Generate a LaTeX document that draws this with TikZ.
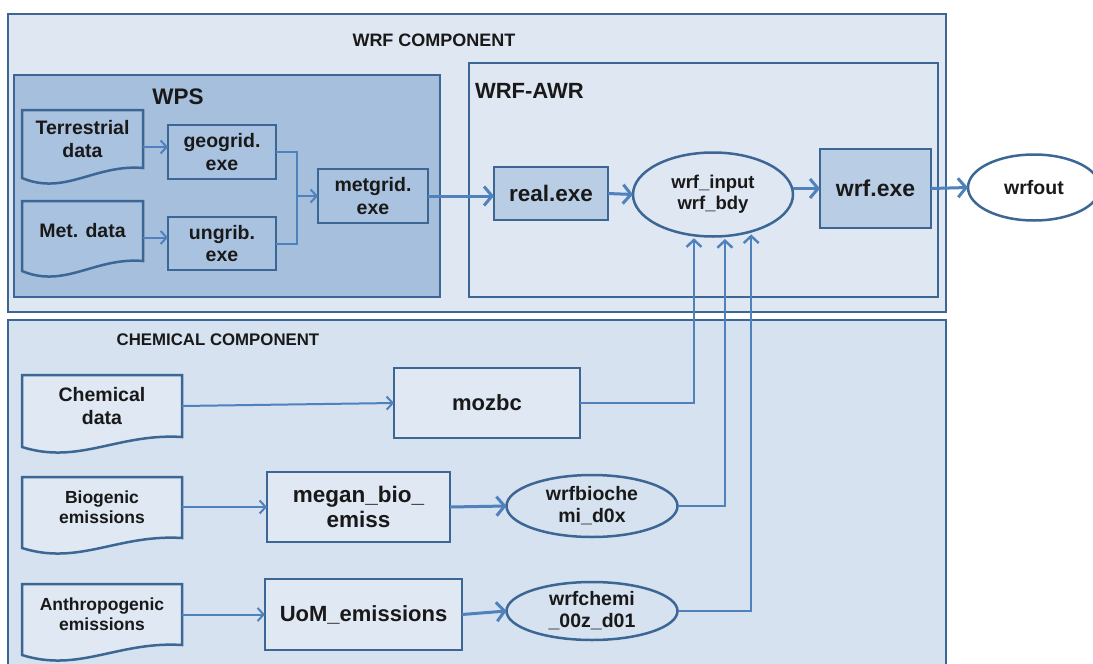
\documentclass[tikz,border=0pt]{standalone}
\usepackage{fontspec}
\setmainfont{Liberation Sans}
\usetikzlibrary{arrows.meta,calc,shapes.geometric}
\pgfdeclarelayer{bglayer}
\pgfdeclarelayer{midlayer}
\pgfsetlayers{bglayer,midlayer,main}
\definecolor{bord}{HTML}{3C6795}
\definecolor{conn}{HTML}{4F81BD}
\definecolor{outerfill}{HTML}{DEE7F2}
\definecolor{chemfill}{HTML}{D6E2F0}
\definecolor{wpsfill}{HTML}{A6BFDD}
\definecolor{procfill}{HTML}{A9C2DF}
\definecolor{exefill}{HTML}{B9CDE5}
\definecolor{lightfill}{HTML}{DFE8F3}
\newcommand\docshape[2]{%
  \draw[docline,fill=#2] (#1.north west) -- (#1.north east) -- (#1.south east)
    .. controls ($(#1.south east)!0.4!(#1.south west)+(0,-4)$) and ($(#1.south west)!0.355!(#1.south east)+(0,28)$)
    .. ($(#1.south west)+(0,10)$) -- cycle;}
\begin{document}
\begin{tikzpicture}[x=1pt,y=-1pt,
  every node/.style={inner sep=0pt, outer sep=0pt, align=center, text=black!90},
  fs/.style 2 args={font=\bfseries\fontsize{#1}{#2}\selectfont},
  bigbox/.style={rectangle, draw=bord, line width=2.6pt},
  proc/.style={rectangle, draw=bord, line width=2.5pt},
  ell/.style={ellipse, draw=bord, line width=2.5pt},
  docnode/.style={rectangle, draw=none},
  docline/.style={draw=bord, line width=2.5pt},
  cline/.style={draw=conn, line width=2pt},
  tarrow/.style={draw=conn, line width=2pt, -{Straight Barb[length=6pt,width=13pt]}},
  barrow/.style={draw=conn, line width=3pt, -{Straight Barb[length=8pt,width=19pt]}},
  varrow/.style={draw=conn, line width=2.4pt, -{Straight Barb[length=7pt,width=15pt]}, shorten >=3pt},
]
\useasboundingbox (0,0) rectangle (1093,664);
\begin{pgfonlayer}{bglayer}
  \fill[white] (0,0) rectangle (1093,664);
  \node[bigbox, fill=outerfill, minimum width=938pt, minimum height=298pt] (wrfc) at (477,163) {};
  \node[bigbox, fill=chemfill, minimum width=938pt, minimum height=380pt] (chem) at (477,510) {};
  \node[bigbox, fill=wpsfill, minimum width=426pt, minimum height=222pt] (wps) at (227,186) {};
  \node[bigbox, fill=outerfill, minimum width=469pt, minimum height=234pt] (awr) at (703.5,180) {};
\end{pgfonlayer}

% labels
\node[fs={18}{21}] (wrfclbl) at (434,40) {WRF COMPONENT};
\node[fs={22.5}{26}] (wpslbl) at (178,97) {WPS};
\node[fs={22}{26}, anchor=west] (awrlbl) at (475,91) {WRF-AWR};
\node[fs={16.8}{20}] (chemlbl) at (218,340) {CHEMICAL COMPONENT};

% WPS
\node[docnode, minimum width=121pt, minimum height=58pt, fs={19.5}{22.5}] (terr) at (82.5,139) {Terrestrial\\data};
\node[docnode, minimum width=121pt, minimum height=60pt, fs={19.5}{22}] (metd) at (82.5,231) {Met. data};
\node[proc, fill=procfill, minimum width=108pt, minimum height=54pt, fs={19.5}{22.5}] (geogrid) at (222,152) {geogrid.\\exe};
\node[proc, fill=procfill, minimum width=108pt, minimum height=53pt, fs={19.5}{22.5}] (ungrib) at (222,243.5) {ungrib.\\exe};
\node[proc, fill=procfill, minimum width=110pt, minimum height=54pt, fs={19.5}{22.5}] (metgrid) at (373,196) {metgrid.\\exe};

% WRF-AWR
\node[proc, fill=exefill, minimum width=114pt, minimum height=53pt, fs={22.5}{26}] (real) at (551,193.5) {real.exe};
\node[ell, fill=outerfill, minimum width=160pt, minimum height=84pt, fs={18.5}{21}] (wrfin) at (713,194.5) {wrf\_input\\wrf\_bdy};
\node[proc, fill=exefill, minimum width=111pt, minimum height=79pt, fs={23}{27}] (wrf) at (875.5,188.5) {wrf.exe};
\node[ell, fill=white, minimum width=132pt, minimum height=66pt, fs={19.5}{22}] (wrfout) at (1034,187.5) {wrfout};

% Chemical
\node[docnode, minimum width=160pt, minimum height=62pt, fs={19.5}{22.5}] (chemd) at (102,406) {Chemical\\data};
\node[docnode, minimum width=160pt, minimum height=61pt, fs={17.5}{20}] (bio) at (102,507.5) {Biogenic\\emissions};
\node[docnode, minimum width=160pt, minimum height=61pt, fs={17.5}{20}] (anth) at (102,614.5) {Anthropogenic\\emissions};
\node[proc, fill=lightfill, minimum width=186pt, minimum height=70pt, fs={22}{25}] (mozbc) at (487,403) {mozbc};
\node[proc, fill=lightfill, minimum width=183pt, minimum height=70pt, fs={22.5}{25}] (megan) at (358.5,507) {megan\_bio\_\\emiss};
\node[proc, fill=lightfill, minimum width=197pt, minimum height=71pt, fs={22}{26}] (uom) at (363.5,614.5) {UoM\_emissions};
\node[ell, fill=chemfill, minimum width=171pt, minimum height=62pt, fs={19.5}{22}] (wrfbio) at (592,506) {wrfbioche\\mi\_d0x};
\node[ell, fill=chemfill, minimum width=171pt, minimum height=58pt, fs={19.5}{22}] (wrfchemi) at (592,611) {wrfchemi\\\_00z\_d01};

\begin{pgfonlayer}{midlayer}
  \docshape{terr}{procfill}
  \docshape{metd}{procfill}
  \docshape{chemd}{lightfill}
  \docshape{bio}{lightfill}
  \docshape{anth}{lightfill}
\end{pgfonlayer}

% connectors WPS
\coordinate (geoin) at ([yshift=5pt]geogrid.west);
\coordinate (ungin) at ([yshift=6pt]ungrib.west);
\coordinate (jn) at (297,196);
\draw[tarrow] (terr.east |- geoin) -- (geoin);
\draw[tarrow] (metd.east |- ungin) -- (ungin);
\draw[cline] (geogrid.east) -| (jn);
\draw[cline] (ungrib.east) -| (jn);
\draw[tarrow] (jn) -- (metgrid.west);
\draw[barrow] (metgrid.east) -- (metgrid.east -| real.west);
\draw[barrow] (real.east) -- (wrfin.west);
\draw[barrow] (wrfin.east |- wrf.west) -- (wrf.west);
\draw[barrow] (wrf.east) -- (wrfout.west);

% connectors chemical
\draw[tarrow] (chemd.east) -- (mozbc.west);
\draw[tarrow] (bio.east |- megan.west) -- (megan.west);
\draw[tarrow] (anth.east) -- (uom.west);
\draw[barrow] (megan.east) -- (wrfbio.west);
\draw[barrow] (uom.east) -- (wrfchemi.west);
\draw[varrow] (mozbc.east) -| (wrfin.245);
\draw[varrow] (wrfbio.east) -| (wrfin.286);
\draw[varrow] (wrfchemi.east) -| (wrfin.316);
\end{tikzpicture}
\end{document}
